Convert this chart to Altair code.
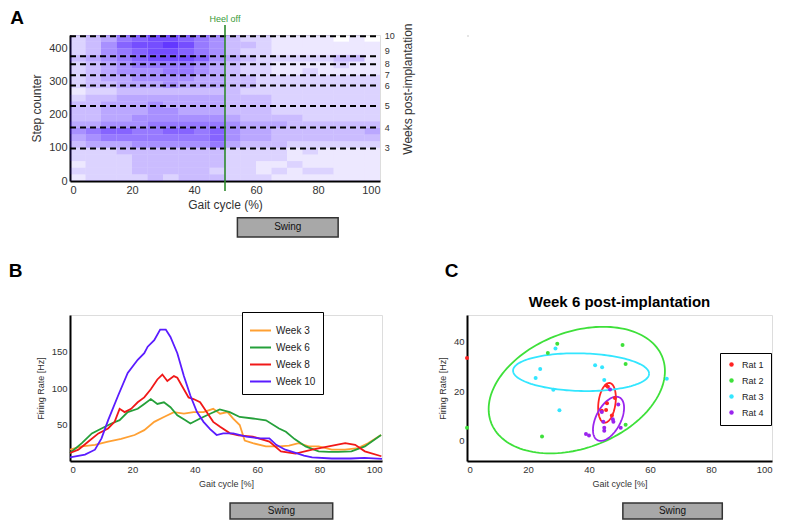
import altair as alt
import pandas as pd
import numpy as np

FONT = "Liberation Sans"

# ---------------- Panel A: raster density (0-9 scale) ----------------
raster_x_starts = [0, 5, 10, 15, 20, 25, 30, 35, 40, 45, 50, 55, 60, 65, 70, 75, 80, 85, 90, 95]
raster_y_starts = [420, 400, 380, 360, 340, 320, 300, 280, 260, 240, 220,
                   200, 180, 160, 140, 120, 100, 80, 60, 40, 20, 0]
raster_density = [
    [2, 3, 4, 6, 7, 8, 8, 7, 6, 5, 3, 2, 2, 1, 1, 1, 1, 0, 1, 0],
    [2, 3, 5, 7, 8, 8, 9, 8, 6, 5, 3, 3, 2, 1, 1, 1, 1, 1, 1, 1],
    [2, 3, 5, 6, 7, 8, 8, 7, 6, 5, 3, 2, 2, 1, 1, 1, 1, 1, 1, 1],
    [3, 4, 5, 6, 7, 8, 8, 8, 7, 5, 4, 3, 2, 2, 2, 2, 2, 3, 3, 1],
    [2, 3, 4, 5, 6, 6, 6, 6, 5, 4, 3, 2, 2, 1, 1, 1, 1, 2, 1, 1],
    [2, 3, 4, 5, 5, 5, 6, 6, 5, 4, 3, 2, 2, 1, 1, 2, 1, 1, 1, 1],
    [2, 3, 4, 4, 5, 5, 5, 5, 4, 4, 3, 3, 2, 2, 2, 2, 2, 2, 2, 2],
    [2, 3, 3, 4, 4, 4, 5, 4, 4, 4, 3, 3, 2, 2, 2, 2, 2, 2, 2, 2],
    [1, 2, 2, 3, 3, 3, 3, 3, 3, 3, 3, 2, 2, 2, 2, 2, 2, 2, 2, 2],
    [2, 3, 3, 4, 4, 4, 4, 4, 4, 4, 3, 3, 3, 2, 2, 2, 2, 2, 2, 2],
    [3, 3, 4, 4, 4, 5, 4, 4, 4, 4, 3, 3, 3, 2, 2, 2, 2, 2, 2, 2],
    [3, 3, 4, 4, 4, 5, 5, 4, 4, 4, 3, 3, 3, 2, 2, 2, 2, 2, 2, 2],
    [3, 3, 4, 4, 5, 5, 5, 5, 5, 5, 4, 3, 3, 3, 3, 2, 2, 2, 2, 2],
    [4, 4, 5, 5, 5, 6, 6, 6, 6, 6, 5, 4, 4, 4, 3, 3, 3, 3, 3, 3],
    [5, 6, 7, 7, 6, 6, 7, 7, 6, 7, 5, 4, 4, 3, 3, 3, 3, 3, 3, 4],
    [4, 5, 6, 6, 6, 6, 6, 6, 6, 7, 5, 4, 4, 3, 3, 3, 3, 3, 3, 3],
    [3, 4, 4, 4, 5, 5, 5, 5, 5, 6, 4, 3, 3, 3, 2, 2, 2, 2, 2, 2],
    [2, 2, 2, 3, 3, 3, 3, 3, 3, 3, 2, 2, 2, 2, 1, 2, 1, 1, 1, 1],
    [2, 2, 2, 2, 3, 3, 3, 3, 3, 3, 2, 2, 2, 2, 1, 1, 1, 1, 1, 1],
    [1, 2, 2, 2, 3, 3, 3, 3, 3, 3, 2, 2, 1, 1, 2, 1, 1, 1, 1, 1],
    [2, 2, 2, 2, 3, 3, 3, 3, 3, 2, 2, 2, 1, 2, 1, 2, 2, 1, 1, 1],
    [1, 2, 2, 2, 2, 3, 2, 3, 3, 3, 2, 2, 2, 1, 1, 1, 1, 1, 1, 1],
]
week_numbers = [3, 4, 5, 6, 7, 8, 9, 10]
week_steps = [98, 161, 226, 288, 319, 352, 376, 436]
week_label_steps = [98, 161, 226, 286, 319, 352, 393, 436]
heel_off_pct = 50

# ---------------- Panel B: firing rate curves ----------------
w3_x = [0, 3.8, 8, 12.2, 16.4, 20.7, 23.8, 27, 30.1, 33.3, 36.5, 39.6, 42.8, 45.9, 48.1, 50.5, 52.3, 54.4,
        56, 58.6, 62.8, 67, 70.2, 73.3, 76.5, 79.7, 83.9, 88.1, 92.3, 95.5, 99.7]
w3_y = [15.5, 20, 22.2, 26.7, 30.2, 35.6, 42.3, 53.6, 60.3, 67, 64.8, 67, 67, 71.5, 64.8, 67, 58.2, 49.2,
        28, 24.4, 20, 20, 21, 24.4, 20, 20, 15.5, 15.5, 17.7, 24.4, 35.6]
w6_x = [0, 3.8, 7, 10.1, 13.3, 15.9, 18.5, 21.7, 23.8, 25.9, 28, 30.1, 32.2, 34.4, 37, 38.6, 41.7, 44.9,
        48, 51.2, 54.4, 58.6, 62.8, 67, 69.2, 72, 75.5, 79.7, 83, 86, 90.2, 94.5, 99.7]
w6_y = [11, 24.4, 37.8, 44.6, 51.4, 55.9, 67, 71.5, 78.2, 84.9, 78.2, 80.4, 73.7, 62.5, 55.9, 51.4, 58.2,
        64.8, 70.6, 67, 60.3, 58.2, 55.8, 44.6, 40, 30, 20, 13.2, 12.4, 12.4, 13.2, 20, 35.6]
w8_x = [0, 2.7, 5.9, 9.1, 12.2, 14.3, 15.9, 17.5, 19.6, 21.7, 23.8, 25.9, 28, 29.6, 31.2, 33.3, 34.4, 35.9,
        38, 39.6, 41.7, 43.8, 45.9, 48.1, 51.3, 54, 58.6, 63.9, 67.6, 72.3, 77.6, 82.9, 88.2, 91.4, 94.5, 99.8]
w8_y = [11, 15.5, 26.7, 37.8, 44.6, 53.6, 71.5, 67, 71.5, 80.4, 87.1, 98.3, 111.7, 118.5, 109.5, 116.3,
        114, 102.8, 87.1, 84.9, 80.4, 67, 53.6, 46.8, 37.9, 35, 33.3, 26.6, 13.2, 10, 15.5, 20, 24.5, 22.2, 13.2, 6.5]
w10_x = [0, 4.8, 8, 10.1, 12.2, 15.4, 18.5, 21.7, 23.8, 24.9, 27, 28.9, 30.7, 32.2, 34.4, 36.5, 38.6, 40.7,
         42.8, 44.9, 47, 49.1, 52.3, 56.5, 60.8, 63.9, 66.1, 69, 72.3, 75, 77.6, 83.9, 90, 94.4, 100]
w10_y = [5, 8.8, 15.5, 31, 55.7, 89.4, 120.7, 138.6, 147.6, 156.6, 165.5, 180, 180, 170, 147.6, 116.3,
         89.4, 67, 53.6, 43.7, 35.6, 37.8, 37.8, 33.3, 31, 31, 22.2, 15.5, 11, 7.5, 5.1, 3.4, 3.4, 4.3, 3]
week_names = ["Week 3", "Week 6", "Week 8", "Week 10"]
week_colors = ["#ffa033", "#25a03a", "#f01818", "#5a1cff"]

# ---------------- Panel C: scatter per rat + ellipses ----------------
rat1_x = [0, 45.7, 46.2, 45.9, 44.2, 45.6, 47.5, 48.5]
rat1_y = [33.5, 22.3, 21.8, 15, 12, 12.3, 10, 17.2]
rat2_x = [0, 26.5, 29.6, 51, 52, 24.6, 52]
rat2_y = [5, 35.5, 39.3, 38.8, 31, 1.5, 6.3]
rat3_x = [29, 24, 22.5, 28.3, 30.3, 42, 44.3, 45, 65.5]
rat3_y = [37.3, 29, 25.3, 20.5, 12.2, 30.5, 29.7, 24.5, 25]
rat4_x = [46.9, 49.6, 44.2, 48, 44.7, 45, 45, 50.4, 39, 40, 47.8]
rat4_y = [20.6, 14.5, 11.5, 7.5, 7.5, 5.1, 3.8, 5.1, 2.5, 1.9, 8.5]
rat_names = ["Rat 1", "Rat 2", "Rat 3", "Rat 4"]
rat_colors = ["#ff2222", "#3ee03a", "#33e6ff", "#9a24ee"]
# ellipse parameters: centre x, centre y, x half-range, y half-range, cos of phase shift (tilt)
ell_cx = [45.9, 36.0, 37.4, 46.4]
ell_cy = [15.2, 20.4, 27.7, 8.7]
ell_ax = [2.9, 28.9, 22.3, 5.1]
ell_by = [8.1, 25.8, 7.7, 9.0]
ell_tilt = [0.25, 0.3, -0.08, 0.5]

# swing-phase boxes (x in % of gait cycle)
swing_A = [54, 86.5]
swing_B = [51.3, 84.2]
swing_C = [51.1, 83.7]


def xenc(domain, values, title, lsize, tsize, tpad, lpad=2):
    return alt.X("x:Q", scale=alt.Scale(domain=domain, nice=False, zero=False),
                 axis=alt.Axis(values=values, title=title, labelFontSize=lsize, titleFontSize=tsize,
                               titlePadding=tpad, labelPadding=lpad, ticks=False, grid=False,
                               domainColor="black", domainWidth=2, labelColor="#333",
                               titleColor="#333", labelFont=FONT, titleFont=FONT,
                               titleFontWeight="normal", format="d"))


def yenc(domain, values, title, lsize, tsize, tpad, lpad=2):
    return alt.Y("y:Q", scale=alt.Scale(domain=domain, nice=False, zero=False),
                 axis=alt.Axis(values=values, title=title, labelFontSize=lsize, titleFontSize=tsize,
                               titlePadding=tpad, labelPadding=lpad, ticks=False, grid=False,
                               domainColor="black", domainWidth=2, labelColor="#333",
                               titleColor="#333", labelFont=FONT, titleFont=FONT,
                               titleFontWeight="normal", format="d"))


def swing_layers(xe, ye, span, ylo, yhi):
    box = alt.Chart(pd.DataFrame({"x": [span[0]], "x2": [span[1]], "y": [ylo], "y2": [yhi]})).mark_rect(
        fill="#a8a8a8", stroke="#333333", strokeWidth=1.5).encode(x=xe, x2="x2:Q", y=ye, y2="y2:Q")
    txt = alt.Chart(pd.DataFrame({"x": [(span[0] + span[1]) / 2], "y": [(ylo + yhi) / 2], "t": ["Swing"]})).mark_text(
        fontSize=10, font=FONT, color="#111", baseline="middle").encode(x=xe, y=ye, text="t:N")
    return [box, txt]


def label(xe, ye, x, y, t, size=19, weight="bold", align="left"):
    return alt.Chart(pd.DataFrame({"x": [x], "y": [y], "t": [t]})).mark_text(
        fontSize=size, fontWeight=weight, font=FONT, align=align, baseline="alphabetic", color="black"
    ).encode(x=xe, y=ye, text="t:N")


# ================= Panel A =================
cells = []
for yi, ys in enumerate(raster_y_starts):
    for xi, xs in enumerate(raster_x_starts):
        cells.append({"x": xs, "x2": xs + 5, "y": ys, "y2": ys + 20, "d": raster_density[yi][xi]})
raster_df = pd.DataFrame(cells)

xA = xenc([0, 100], [0, 20, 40, 60, 80, 100], "Gait cycle (%)", 11, 12, 4, 3)
yA = yenc([0, 440], [0, 100, 200, 300, 400], "Step counter", 11, 12, 5, 3)

heat = alt.Chart(raster_df).mark_rect(color="#5222ff").encode(
    x=xA, x2="x2:Q", y=yA, y2="y2:Q",
    opacity=alt.Opacity("d:Q", scale=alt.Scale(domain=[0, 9], range=[0.0, 0.9]), legend=None))
week_df = pd.DataFrame({"x": [0] * len(week_steps), "x2": [100] * len(week_steps), "y": week_steps})
wl_df = pd.DataFrame({"x": [101.5] * len(week_steps), "y": week_label_steps,
                      "t": [str(w) for w in week_numbers]})
dashes = alt.Chart(week_df).mark_rule(color="black", strokeDash=[6, 4], strokeWidth=2).encode(
    x=xA, x2="x2:Q", y=yA)
week_lbl = alt.Chart(wl_df).mark_text(align="left", baseline="middle", fontSize=9, font=FONT,
                                      color="#333").encode(x=xA, y=yA, text="t:N")
heel_rule = alt.Chart(pd.DataFrame({"x": [heel_off_pct], "y": [-30], "y2": [470]})).mark_rule(
    color="#2e8b2e", strokeWidth=1.6).encode(x=xA, y=yA, y2="y2:Q")
heel_txt = alt.Chart(pd.DataFrame({"x": [heel_off_pct], "y": [479], "t": ["Heel off"]})).mark_text(
    fontSize=9, font=FONT, color="#3a9a3a", baseline="alphabetic").encode(x=xA, y=yA, text="t:N")
weeks_title = alt.Chart(pd.DataFrame({"x": [109], "y": [277], "t": ["Weeks post-implantation"]})).mark_text(
    fontSize=12, font=FONT, color="#333", angle=270, baseline="middle").encode(x=xA, y=yA, text="t:N")

panelA = alt.layer(heat, dashes, week_lbl, heel_rule, heel_txt, weeks_title,
                   *swing_layers(xA, yA, swing_A, -111, -169),
                   label(xA, yA, -19.3, 473, "A")).properties(width=310, height=146)

# ================= Panel B =================
rowsB = []
for name, xs, ys in zip(week_names, [w3_x, w6_x, w8_x, w10_x], [w3_y, w6_y, w8_y, w10_y]):
    for xv, yv in zip(xs, ys):
        rowsB.append({"x": xv, "y": yv, "series": name})
dfB = pd.DataFrame(rowsB)

xB = xenc([0, 100], [0, 20, 40, 60, 80, 100], "Gait cycle [%]", 9.5, 9, 6, 3)
yB = yenc([0, 200], [50, 100, 150], "Firing Rate [Hz]", 9.5, 9, 6, 3)

linesB = alt.Chart(dfB).mark_line(strokeWidth=1.8).encode(
    x=xB, y=yB,
    color=alt.Color("series:N", scale=alt.Scale(domain=week_names, range=week_colors),
                    sort=week_names,
                    legend=alt.Legend(title=None, orient="none", legendX=172, legendY=-3,
                                      symbolType="stroke", symbolSize=441, symbolStrokeWidth=2,
                                      labelFontSize=10, labelFont=FONT, labelColor="#222",
                                      strokeColor="black", fillColor="white", padding=7,
                                      rowPadding=0, labelOffset=4)))

panelB = alt.layer(linesB, *swing_layers(xB, yB, swing_B, -57.5, -79.5),
                   label(xB, yB, -19.6, 252, "B")).properties(width=312, height=146)

# ================= Panel C =================
rowsC = []
for name, xs, ys in zip(rat_names, [rat1_x, rat2_x, rat3_x, rat4_x], [rat1_y, rat2_y, rat3_y, rat4_y]):
    for xv, yv in zip(xs, ys):
        rowsC.append({"x": xv, "y": yv, "rat": name})
dfC = pd.DataFrame(rowsC)

tt = np.linspace(0, 2 * np.pi, 145)
rowsE = []
for name, cx, cy, a, b, c in zip(rat_names, ell_cx, ell_cy, ell_ax, ell_by, ell_tilt):
    ph = np.arccos(c)
    for i, t in enumerate(tt):
        rowsE.append({"x": cx + a * np.cos(t), "y": cy + b * np.cos(t - ph), "rat_e": name, "i": i})
dfE = pd.DataFrame(rowsE)

xC = xenc([0, 100], [0, 20, 40, 60, 80, 100], "Gait cycle [%]", 9.5, 9, 6, 3)
yC = yenc([-8.5, 51], [0, 20, 40], "Firing Rate [Hz]", 9.5, 9, 6, 3)

ellC = alt.Chart(dfE).mark_line(strokeWidth=1.8).encode(
    x=xC, y=yC, order="i:Q", detail="rat_e:N",
    color=alt.Color("rat_e:N", scale=alt.Scale(domain=rat_names, range=rat_colors), legend=None))
ptsC = alt.Chart(dfC).mark_circle(size=16, opacity=1).encode(
    x=xC, y=yC,
    color=alt.Color("rat:N", scale=alt.Scale(domain=rat_names, range=rat_colors),
                    legend=alt.Legend(title=None, orient="none", legendX=253, legendY=38,
                                      symbolType="circle", symbolSize=20, labelFontSize=9,
                                      labelFont=FONT, labelColor="#222", strokeColor="black",
                                      fillColor="white", padding=7, rowPadding=6, labelOffset=6)))

panelC = alt.layer(ellC, ptsC, *swing_layers(xC, yC, swing_C, -25.6, -32.1),
                   label(xC, yC, 50, 54.2, "Week 6 post-implantation", size=15, align="center"),
                   label(xC, yC, -7.3, 66.5, "C")).resolve_scale(color="independent").properties(
    width=305, height=146)

# empty placeholder cell (top-right of the grid)
blank = alt.Chart(pd.DataFrame({"x": [0], "y": [0], "t": [" "]})).mark_text(
    fontSize=1, color="white").encode(
    x=alt.X("x:Q", axis=None), y=alt.Y("y:Q", axis=None), text="t:N").properties(width=1, height=1)

chart = alt.concat(panelA, blank, panelB, panelC, columns=2, align="each",
                   spacing={"row": 22, "column": 22}).resolve_scale(
    color="independent", opacity="independent").resolve_legend(
    color="independent", opacity="independent").properties(padding=0).configure_view(
    strokeWidth=0, stroke="transparent", fill="transparent").configure(font=FONT)

chart.save("out.html", embed_options={"renderer": "svg", "actions": False})
